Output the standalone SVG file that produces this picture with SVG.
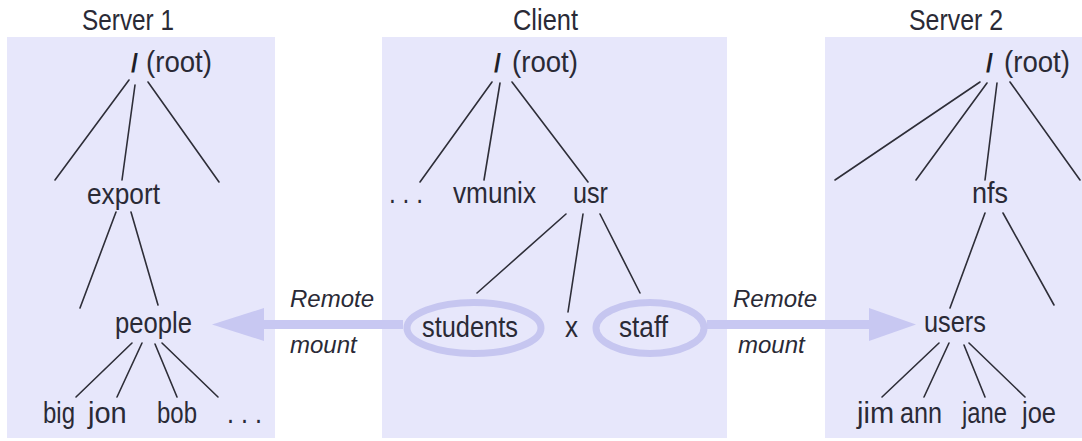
<svg xmlns="http://www.w3.org/2000/svg" width="1082" height="441" viewBox="0 0 1082 441">
<style>
.panel{fill:#e7e7fb;stroke:none}
.t{font-family:"Liberation Sans",Arial,sans-serif;font-size:29px;fill:#2a2a36}
.sl{font-family:"Liberation Sans",Arial,sans-serif;font-size:25px;font-weight:bold;fill:#1e1e28}
.it{font-family:"Liberation Sans",Arial,sans-serif;font-size:24px;font-style:italic;fill:#2a2a36}
.e{fill:none;stroke:#c6c6f0;stroke-width:7}
.ln{stroke:#2e2e38;stroke-width:1.6;fill:none;stroke-linecap:round}
.arr{fill:#c8c8f2;stroke:none}
</style>
<rect width="1082" height="441" fill="#ffffff"/>
<g id="panels">
<rect class="panel" x="7" y="37" width="268" height="401"/>
<rect class="panel" x="382" y="37" width="345" height="401"/>
<rect class="panel" x="825" y="37" width="257" height="401"/>
</g>
<g id="titles">
<text class="t" x="82" y="30" textLength="92" lengthAdjust="spacingAndGlyphs">Server 1</text>
<text class="t" x="513" y="30" textLength="65" lengthAdjust="spacingAndGlyphs">Client</text>
<text class="t" x="909" y="30" textLength="94" lengthAdjust="spacingAndGlyphs">Server 2</text>
</g>
<g id="connectors">
<line class="ln" x1="129" y1="80" x2="55" y2="180"/>
<line class="ln" x1="135" y1="85" x2="122" y2="180"/>
<line class="ln" x1="148" y1="82" x2="219" y2="182"/>
<line class="ln" x1="116" y1="212" x2="80" y2="308"/>
<line class="ln" x1="131" y1="212" x2="158" y2="305"/>
<line class="ln" x1="132" y1="343" x2="76" y2="397"/>
<line class="ln" x1="142" y1="343" x2="117" y2="397"/>
<line class="ln" x1="155" y1="344" x2="177" y2="397"/>
<line class="ln" x1="162" y1="343" x2="218" y2="397"/>
<line class="ln" x1="492" y1="82" x2="420" y2="182"/>
<line class="ln" x1="500" y1="83" x2="484" y2="180"/>
<line class="ln" x1="512" y1="82" x2="588" y2="182"/>
<line class="ln" x1="566" y1="214" x2="477" y2="293"/>
<line class="ln" x1="583" y1="214" x2="568" y2="312"/>
<line class="ln" x1="600" y1="214" x2="640" y2="293"/>
<line class="ln" x1="980" y1="82" x2="835" y2="180"/>
<line class="ln" x1="987" y1="83" x2="916" y2="180"/>
<line class="ln" x1="997" y1="83" x2="985" y2="180"/>
<line class="ln" x1="1010" y1="82" x2="1080" y2="180"/>
<line class="ln" x1="985" y1="213" x2="950" y2="308"/>
<line class="ln" x1="1003" y1="213" x2="1054" y2="305"/>
<line class="ln" x1="939" y1="343" x2="882" y2="397"/>
<line class="ln" x1="949" y1="343" x2="924" y2="397"/>
<line class="ln" x1="964" y1="345" x2="985" y2="397"/>
<line class="ln" x1="969" y1="343" x2="1025" y2="397"/>
<g id="mount-left">
<rect class="arr" x="262" y="320" width="141" height="9"/>
<polygon class="arr" points="212,324.5 264,308 264,341"/>
</g>
<g id="mount-right">
<rect class="arr" x="707" y="320" width="164" height="9"/>
<polygon class="arr" points="916,324.5 869,308 869,341"/>
</g>
</g>
<g id="labels-mount">
<text class="it" x="290" y="307">Remote</text>
<text class="it" x="290" y="353">mount</text>
<text class="it" x="733" y="307">Remote</text>
<text class="it" x="738" y="353">mount</text>
</g>
<g id="s1-root"><text class="sl" x="131" y="72">/</text><text class="t" x="146" y="72" textLength="66" lengthAdjust="spacingAndGlyphs">(root)</text></g>
<g id="s1-export"><text class="t" x="87" y="204" textLength="73" lengthAdjust="spacingAndGlyphs">export</text></g>
<g id="s1-people"><text class="t" x="115" y="333" textLength="77" lengthAdjust="spacingAndGlyphs">people</text></g>
<g id="s1-big"><text class="t" x="43" y="423" textLength="32" lengthAdjust="spacingAndGlyphs">big</text></g>
<g id="s1-jon"><text class="t" x="88" y="423">jon</text></g>
<g id="s1-bob"><text class="t" x="157" y="423" textLength="40" lengthAdjust="spacingAndGlyphs">bob</text></g>
<g id="s1-more"><text class="t" x="227" y="423" textLength="35" lengthAdjust="spacingAndGlyphs">. . .</text></g>
<g id="c-root"><text class="sl" x="494" y="72">/</text><text class="t" x="512" y="72" textLength="66" lengthAdjust="spacingAndGlyphs">(root)</text></g>
<g id="c-more"><text class="t" x="389" y="203" textLength="34" lengthAdjust="spacingAndGlyphs">. . .</text></g>
<g id="c-vmunix"><text class="t" x="453" y="203" textLength="83" lengthAdjust="spacingAndGlyphs">vmunix</text></g>
<g id="c-usr"><text class="t" x="573" y="203" textLength="35" lengthAdjust="spacingAndGlyphs">usr</text></g>
<g id="c-students"><ellipse class="e" cx="474" cy="328" rx="67" ry="25.5"/><text class="t" x="422" y="337" textLength="96" lengthAdjust="spacingAndGlyphs">students</text></g>
<g id="c-x"><text class="t" x="565" y="337" textLength="13" lengthAdjust="spacingAndGlyphs">x</text></g>
<g id="c-staff"><ellipse class="e" cx="650" cy="328" rx="54" ry="25.5"/><text class="t" x="619" y="337" textLength="49" lengthAdjust="spacingAndGlyphs">staff</text></g>
<g id="s2-root"><text class="sl" x="986" y="72">/</text><text class="t" x="1004" y="72" textLength="66" lengthAdjust="spacingAndGlyphs">(root)</text></g>
<g id="s2-nfs"><text class="t" x="972" y="203" textLength="36" lengthAdjust="spacingAndGlyphs">nfs</text></g>
<g id="s2-users"><text class="t" x="924" y="332" textLength="62" lengthAdjust="spacingAndGlyphs">users</text></g>
<g id="s2-jim"><text class="t" x="857" y="423">jim</text></g>
<g id="s2-ann"><text class="t" x="900" y="423" textLength="42" lengthAdjust="spacingAndGlyphs">ann</text></g>
<g id="s2-jane"><text class="t" x="962" y="423" textLength="45" lengthAdjust="spacingAndGlyphs">jane</text></g>
<g id="s2-joe"><text class="t" x="1022" y="423" textLength="34" lengthAdjust="spacingAndGlyphs">joe</text></g>
</svg>
